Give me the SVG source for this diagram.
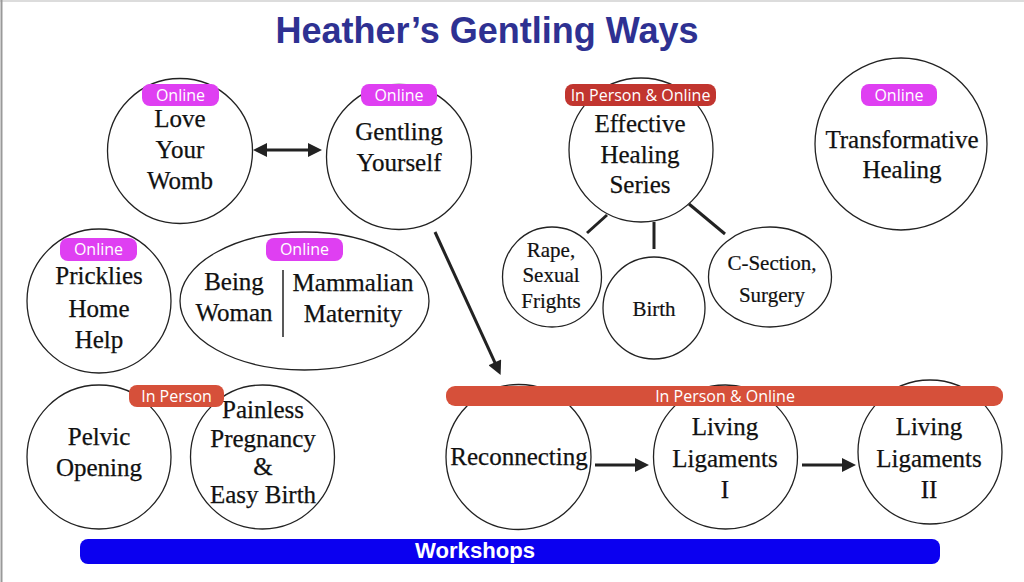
<svg xmlns="http://www.w3.org/2000/svg" width="1024" height="582" viewBox="0 0 1024 582">
<defs>
<style>
.node{fill:#fff;stroke:#222;stroke-width:1.3}
.t{font-family:"Liberation Serif",serif;font-size:25px;fill:#111;text-anchor:middle;stroke:#111;stroke-width:0.25}
.ts{font-family:"Liberation Serif",serif;font-size:21px;fill:#111;text-anchor:middle;stroke:#111;stroke-width:0.2}
.bt{font-family:"Open Sans","Liberation Sans",sans-serif;font-size:16px;fill:#fff;text-anchor:middle}
.pink{fill:#df3ff2}
.red{fill:#c1352f}
.orange{fill:#d6503a}
.conn{stroke:#222;stroke-width:3;fill:none}
</style>
<marker id="ah" viewBox="0 0 10 10" refX="5" refY="5" markerWidth="17" markerHeight="14" markerUnits="userSpaceOnUse" orient="auto-start-reverse">
<path d="M0,0 L10,5 L0,10 z" fill="#222"/>
</marker>
</defs>
<rect width="1024" height="582" fill="#fff"/>
<line x1="0" y1="1" x2="1024" y2="1" stroke="#dcdcdc" stroke-width="2"/>
<line x1="1.5" y1="0" x2="1.5" y2="582" stroke="#999" stroke-width="2"/>

<text x="487" y="43" font-family="Liberation Sans,sans-serif" font-weight="bold" font-size="37" fill="#2e3192" text-anchor="middle" textLength="423" lengthAdjust="spacingAndGlyphs">Heather’s Gentling Ways</text>

<g id="connectors">
<line class="conn" x1="260" y1="150" x2="315" y2="150" marker-start="url(#ah)" marker-end="url(#ah)"/>
<line class="conn" x1="435" y1="232" x2="497.7" y2="368.7" marker-end="url(#ah)"/>
<line class="conn" x1="607" y1="215" x2="587" y2="233"/>
<line class="conn" x1="654" y1="222" x2="654" y2="249"/>
<line class="conn" x1="689" y1="204" x2="725" y2="234"/>
<line class="conn" x1="595" y1="465" x2="642" y2="465" marker-end="url(#ah)"/>
<line class="conn" x1="802" y1="465" x2="849" y2="465" marker-end="url(#ah)"/>
</g>

<g id="love-your-womb">
<circle class="node" cx="180" cy="151" r="72.5"/>
<rect class="pink" x="142" y="84" width="77" height="22" rx="8"/>
<text class="bt" x="180.5" y="101">Online</text>
<text class="t" x="180" y="127">Love</text>
<text class="t" x="180" y="158">Your</text>
<text class="t" x="180" y="189">Womb</text>
</g>

<g id="gentling-yourself">
<circle class="node" cx="399" cy="157" r="72.5"/>
<rect class="pink" x="361" y="84" width="76" height="22" rx="8"/>
<text class="bt" x="399" y="101">Online</text>
<text class="t" x="399" y="140">Gentling</text>
<text class="t" x="399" y="171">Yourself</text>
</g>

<g id="effective-healing-series">
<circle class="node" cx="641" cy="150" r="72"/>
<rect class="red" x="565" y="84" width="151" height="22" rx="8"/>
<text class="bt" x="640.5" y="101">In Person &amp; Online</text>
<text class="t" x="640" y="132">Effective</text>
<text class="t" x="640" y="163">Healing</text>
<text class="t" x="640" y="193">Series</text>
</g>

<g id="transformative-healing">
<circle class="node" cx="901" cy="144" r="86"/>
<rect class="pink" x="861" y="84" width="76" height="22" rx="8"/>
<text class="bt" x="899" y="101">Online</text>
<text class="t" x="902" y="148">Transformative</text>
<text class="t" x="902" y="178">Healing</text>
</g>

<g id="rape-sexual-frights">
<ellipse class="node" cx="552" cy="277" rx="49.5" ry="50"/>
<text class="ts" x="551" y="257">Rape,</text>
<text class="ts" x="551" y="282">Sexual</text>
<text class="ts" x="551" y="308">Frights</text>
</g>

<g id="birth">
<circle class="node" cx="654" cy="308" r="51"/>
<text class="ts" x="654" y="316">Birth</text>
</g>

<g id="c-section-surgery">
<ellipse class="node" cx="770" cy="277" rx="61.5" ry="50"/>
<text class="ts" x="772" y="270">C-Section,</text>
<text class="ts" x="772" y="302">Surgery</text>
</g>

<g id="pricklies-home-help">
<circle class="node" cx="99" cy="301" r="72"/>
<rect class="pink" x="60" y="238" width="77" height="23" rx="8"/>
<text class="bt" x="98.5" y="255">Online</text>
<text class="t" x="99" y="284">Pricklies</text>
<text class="t" x="99" y="317">Home</text>
<text class="t" x="99" y="348">Help</text>
</g>

<g id="being-woman-mammalian-maternity">
<ellipse class="node" cx="304.5" cy="301" rx="124.5" ry="69"/>
<rect class="pink" x="266" y="238" width="77" height="23" rx="8"/>
<text class="bt" x="304.5" y="255">Online</text>
<line x1="283" y1="270" x2="283" y2="337" stroke="#222" stroke-width="1.5"/>
<text class="t" x="234" y="290">Being</text>
<text class="t" x="234" y="321">Woman</text>
<text class="t" x="353" y="291">Mammalian</text>
<text class="t" x="353" y="322">Maternity</text>
</g>

<g id="pelvic-opening">
<circle class="node" cx="99" cy="457" r="72"/>
<text class="t" x="99" y="445">Pelvic</text>
<text class="t" x="99" y="476">Opening</text>
</g>

<g id="painless-pregnancy">
<circle class="node" cx="262.5" cy="457" r="72"/>
<text class="t" x="263" y="418" font-size="24">Painless</text>
<text class="t" x="263" y="447" font-size="24">Pregnancy</text>
<text class="t" x="263" y="475" font-size="24">&amp;</text>
<text class="t" x="263" y="503" font-size="24">Easy Birth</text>
</g>

<g id="in-person-badge">
<rect class="orange" x="129" y="385" width="95" height="22" rx="8"/>
<text class="bt" x="176.5" y="402">In Person</text>
</g>

<g id="reconnecting">
<circle class="node" cx="518.5" cy="457" r="72.5"/>
<text class="t" x="519" y="465" font-size="23.5">Reconnecting</text>
</g>

<g id="living-ligaments-1">
<circle class="node" cx="725.5" cy="457" r="72"/>
<text class="t" x="725" y="435">Living</text>
<text class="t" x="725" y="467">Ligaments</text>
<text class="t" x="725" y="498">I</text>
</g>

<g id="living-ligaments-2">
<circle class="node" cx="930" cy="452" r="72"/>
<text class="t" x="929" y="435">Living</text>
<text class="t" x="929" y="467">Ligaments</text>
<text class="t" x="929" y="498">II</text>
</g>

<g id="workshop-bar">
<rect class="orange" x="446" y="386" width="557" height="20" rx="9"/>
<text class="bt" x="725" y="402">In Person &amp; Online</text>
</g>

<g id="workshops">
<rect x="80" y="539" width="860" height="25" rx="8" fill="#0b00f0"/>
<text x="475" y="558" font-family="Liberation Sans,sans-serif" font-weight="bold" font-size="22" fill="#fff" text-anchor="middle" textLength="120" lengthAdjust="spacingAndGlyphs">Workshops</text>
</g>
</svg>
